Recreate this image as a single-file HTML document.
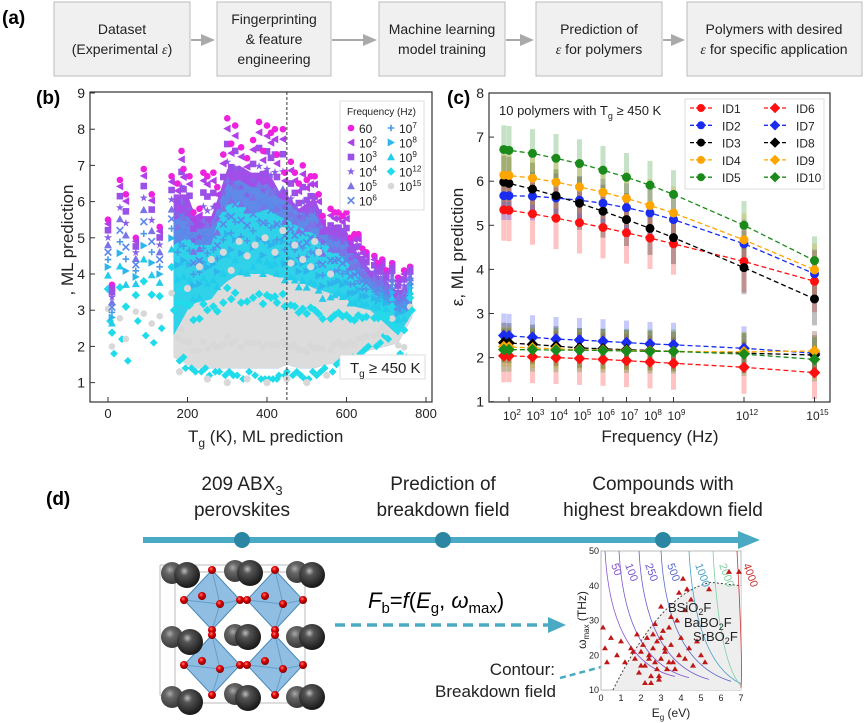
<!DOCTYPE html>
<html><head><meta charset="utf-8">
<style>
html,body{margin:0;padding:0;background:#fff;}
body{width:865px;height:723px;overflow:hidden;position:relative;font-family:"Liberation Sans",sans-serif;}
svg{position:absolute;left:0;top:0;}
text{font-family:"Liberation Sans",sans-serif;}
</style></head>
<body>
<svg id="fig" width="865" height="723" viewBox="0 0 865 723" xmlns="http://www.w3.org/2000/svg">
<defs>
 <radialGradient id="ball" cx="0.4" cy="0.35" r="0.7">
  <stop offset="0" stop-color="#bdbdbd"/><stop offset="0.25" stop-color="#555"/><stop offset="1" stop-color="#111"/>
 </radialGradient>
 <radialGradient id="ball2" cx="0.4" cy="0.35" r="0.7">
  <stop offset="0" stop-color="#aaa"/><stop offset="0.3" stop-color="#666"/><stop offset="1" stop-color="#333"/>
 </radialGradient>
 <radialGradient id="red" cx="0.4" cy="0.35" r="0.7">
  <stop offset="0" stop-color="#ff8080"/><stop offset="0.4" stop-color="#d00"/><stop offset="1" stop-color="#700"/>
 </radialGradient>
 <marker id="ghead" markerWidth="8" markerHeight="8" refX="6" refY="4" orient="auto"><path d="M0,1 L7,4 L0,7 Z" fill="#aaa"/></marker>
</defs>

<!-- PANEL A -->
<g>
 <text x="2" y="24" font-size="19" font-weight="bold">(a)</text>
 <g font-size="14" fill="#222" text-anchor="middle">
  <rect x="54" y="2" width="136" height="74" fill="#f0f0f0" stroke="#bbb"/>
  <text x="122" y="34">Dataset</text><text x="122" y="54">(Experimental <tspan font-family="Liberation Serif" font-style="italic">ε</tspan>)</text>
  <rect x="217" y="2" width="114" height="74" fill="#f0f0f0" stroke="#bbb"/>
  <text x="274" y="24">Fingerprinting</text><text x="274" y="44">&amp; feature</text><text x="274" y="64">engineering</text>
  <rect x="379" y="2" width="126" height="74" fill="#f0f0f0" stroke="#bbb"/>
  <text x="442" y="34">Machine learning</text><text x="442" y="54">model training</text>
  <rect x="536" y="2" width="126" height="74" fill="#f0f0f0" stroke="#bbb"/>
  <text x="599" y="34">Prediction of</text><text x="599" y="54"><tspan font-family="Liberation Serif" font-style="italic">ε</tspan> for polymers</text>
  <rect x="687" y="2" width="175" height="74" fill="#f0f0f0" stroke="#bbb"/>
  <text x="774" y="34">Polymers with desired</text><text x="774" y="54"><tspan font-family="Liberation Serif" font-style="italic">ε</tspan> for specific application</text>
 </g>
 <g stroke="#aaa" stroke-width="2" marker-end="url(#ghead)">
  <line x1="191" y1="40" x2="213" y2="40"/><line x1="332" y1="40" x2="375" y2="40"/>
  <line x1="506" y1="40" x2="532" y2="40"/><line x1="663" y1="40" x2="683" y2="40"/>
 </g>
</g>

<g id="pb">
 <text x="36" y="104" font-size="19" font-weight="bold">(b)</text>
</g>

<g id="pc">
 <text x="447" y="104" font-size="19" font-weight="bold">(c)</text>
</g>

<g>
 <text x="46" y="505" font-size="19" font-weight="bold">(d)</text>
 <g font-size="19" fill="#222" text-anchor="middle">
  <text x="242" y="490">209 ABX<tspan font-size="13" dy="5">3</tspan></text>
  <text x="242" y="516">perovskites</text>
  <text x="443" y="490">Prediction of</text>
  <text x="443" y="516">breakdown field</text>
  <text x="663" y="490">Compounds with</text>
  <text x="663" y="516">highest breakdown field</text>
 </g>
 <line x1="143" y1="540" x2="745" y2="540" stroke="#4aaac4" stroke-width="6"/>
 <path d="M738,531 L760,540 L738,549 Z" fill="#4aaac4"/>
 <circle cx="242" cy="540" r="8" fill="#2a86a2"/>
 <circle cx="443" cy="540" r="8" fill="#2a86a2"/>
 <circle cx="663" cy="540" r="8" fill="#2a86a2"/>
 <g id="crystal"></g>
 <text x="368" y="608" font-size="22" font-family="Liberation Serif" font-style="italic">F<tspan font-style="normal" font-size="15" dy="5">b</tspan><tspan dy="-5" font-style="normal">=</tspan>f<tspan font-style="normal">(</tspan>E<tspan font-style="normal" font-size="15" dy="5">g</tspan><tspan dy="-5" font-style="normal">, </tspan>ω<tspan font-style="normal" font-size="15" dy="5">max</tspan><tspan dy="-5" font-style="normal">)</tspan></text>
 <line x1="335" y1="625" x2="552" y2="625" stroke="#4aaac4" stroke-width="3.5" stroke-dasharray="10,6"/>
 <path d="M548,617 L566,625 L548,633 Z" fill="#4aaac4"/>
 <g font-size="17" fill="#222" text-anchor="end">
  <text x="555" y="675">Contour:</text>
  <text x="556" y="697">Breakdown field</text>
 </g>
 <line x1="560" y1="678" x2="605" y2="666" stroke="#4aaac4" stroke-width="2.5" stroke-dasharray="6,4"/>
 <path d="M602,660 L614,664 L604,671 Z" fill="#4aaac4"/>
 <g id="inset"></g>
</g>
</svg>

<script>
const NS='http://www.w3.org/2000/svg';
function mk(parent,tag,attrs){const e=document.createElementNS(NS,tag);for(const k in attrs)e.setAttribute(k,attrs[k]);parent.appendChild(e);return e;}

/* ================= PANEL B DATA ================= */
const bEnvTg      =[165,200,220,260,280,300,330,360,380,400,430,450,480,520,550,600,620,660,700,730,765];
const bEnvPurple  =[6.2,6.2,5.6,5.6,6.2,6.9,7.0,6.8,6.8,6.9,6.3,6.2,5.8,6.1,5.3,5.2,4.7,4.1,3.8,3.5,3.8];
const bEnvBlue    =[5.5,5.6,5.3,5.3,6.0,6.5,6.6,6.4,6.4,6.5,6.1,6.0,5.7,5.7,5.1,4.9,4.5,3.9,3.5,3.2,3.4];
const bEnvCyan    =[4.8,5.0,4.8,4.8,5.6,5.9,6.0,5.7,5.7,5.8,5.6,5.5,5.3,5.1,4.8,4.4,4.1,3.6,3.2,2.9,3.0];
const bEnvGray    =[2.3,3.0,3.2,3.3,3.6,3.8,4.0,4.0,4.0,4.0,3.9,3.9,3.8,3.6,3.5,3.3,3.1,3.0,2.6,2.3,2.9];
const bEnvBottom  =[1.7,1.5,1.4,1.4,1.4,1.4,1.4,1.4,1.4,1.4,1.4,1.5,1.4,1.4,1.5,1.6,1.7,1.9,2.0,2.1,2.8];
const bPolyTg  =[0,10,30,45,70,90,110,130,160,185,205,240,265,300,320,380,400,420,440,460,490,520,560,600,620,650,690,715,730,745,760,
                 175,190,215,230,250,275,290,310,335,350,365,390,410,425,445,470,480,500,510,530,540,570,580,590,610,630,640,670,680,700];
const bPolyTop =[5.5,3.7,6.6,6.2,5.0,6.9,6.2,5.3,6.7,7.4,6.7,6.8,6.8,8.3,8.1,8.2,8.1,8.0,8.0,7.1,7.0,6.7,5.8,5.7,5.1,4.6,4.4,4.3,3.9,4.1,4.2,
                 6.5,6.9,5.7,5.8,6.7,6.4,7.3,7.6,7.5,7.2,7.7,7.4,7.9,7.3,6.8,6.8,6.5,6.6,6.7,6.2,5.6,5.7,5.7,5.6,5.0,5.1,4.7,4.5,4.3,4.1];
const bPolyLow =[2.6,1.7,2.1,1.5,2.6,2.2,2.0,2.4,2.9,1.6,1.3,1.3,1.2,1.2,1.1,1.0,1.0,1.0,1.1,1.1,1.0,1.1,1.2,1.4,1.5,1.9,2.2,2.5,1.7,1.6,2.9,
                 1.5,1.3,1.2,1.2,1.1,1.2,1.1,1.1,1.0,1.2,1.1,1.0,1.0,1.1,1.2,1.2,1.1,1.0,1.2,1.2,1.3,1.4,1.5,1.4,1.6,1.7,1.8,1.9,2.0,2.1];
const bGrayTg =[200,230,260,290,310,330,350,370,395,420,440,470,490,510,530,560,180,250,300,350,400,450,500,550,600,650,520,460];
const bGrayEps=[3.6,4.2,4.4,4.6,4.1,4.9,4.5,4.8,5.0,4.6,5.2,4.8,4.4,4.2,4.6,4.0,1.3,1.1,1.0,1.1,1.0,1.1,1.0,1.2,1.2,1.6,4.9,4.3];
const bFreqLabels=['60','10^2','10^3','10^4','10^5','10^6','10^7','10^8','10^9','10^12','10^15'];
const bFreqFrac=[0,0.04,0.1,0.17,0.24,0.31,0.38,0.45,0.53,0.66,0.85];
const bXTicks=[0,200,400,600,800];
const bYTicks=[1,2,3,4,5,6,7,8,9];
const bColors=['#ee22dd','#b040ea','#9b50e8','#8a60e8','#7a74e6','#5c86ea','#4a9ae8','#2eb6ec','#22ccea','#20dcea','#d8d8d8'];
const bShapes=['circle','ltri','square','star','utri','x','plus','rtri','utri','diamond','circle'];

const bx=v=>108+v*0.3975, by=v=>93+(9-v)*36.2;

function marker(g,shape,cx,cy,s,col){
  let e;
  if(shape==='circle') e=mk(g,'circle',{cx,cy,r:s,fill:col});
  else if(shape==='square') e=mk(g,'rect',{x:cx-s,y:cy-s,width:2*s,height:2*s,fill:col});
  else if(shape==='diamond') e=mk(g,'path',{d:`M${cx},${cy-s*1.3}L${cx+s*1.3},${cy}L${cx},${cy+s*1.3}L${cx-s*1.3},${cy}Z`,fill:col});
  else if(shape==='utri') e=mk(g,'path',{d:`M${cx},${cy-s*1.2}L${cx+s*1.2},${cy+s}L${cx-s*1.2},${cy+s}Z`,fill:col});
  else if(shape==='ltri') e=mk(g,'path',{d:`M${cx-s*1.2},${cy}L${cx+s},${cy-s*1.2}L${cx+s},${cy+s*1.2}Z`,fill:col});
  else if(shape==='rtri') e=mk(g,'path',{d:`M${cx+s*1.2},${cy}L${cx-s},${cy-s*1.2}L${cx-s},${cy+s*1.2}Z`,fill:col});
  else if(shape==='x') e=mk(g,'path',{d:`M${cx-s},${cy-s}L${cx+s},${cy+s}M${cx-s},${cy+s}L${cx+s},${cy-s}`,stroke:col,'stroke-width':1.6});
  else if(shape==='plus') e=mk(g,'path',{d:`M${cx-s},${cy}L${cx+s},${cy}M${cx},${cy-s}L${cx},${cy+s}`,stroke:col,'stroke-width':1.6});
  else if(shape==='star'){let d='';for(let i=0;i<10;i++){const r=i%2?s*0.5:s*1.3,a=-Math.PI/2+i*Math.PI/5;d+=(i?'L':'M')+(cx+r*Math.cos(a)).toFixed(1)+','+(cy+r*Math.sin(a)).toFixed(1);}e=mk(g,'path',{d:d+'Z',fill:col});}
  return e;
}
function supText(g,x,y,lbl,size,anchor){
  const t=mk(g,'text',{x,y,'font-size':size,'text-anchor':anchor||'start',fill:'#222'});
  if(lbl.indexOf('^')>=0){const p=lbl.split('^');t.appendChild(document.createTextNode(p[0]));const s=mk(t,'tspan',{'font-size':size*0.68,dy:-size*0.4});s.textContent=p[1];}
  else t.textContent=lbl;
  return t;
}

(function(){
 const g=document.getElementById('pb');
 function band(top,bot,col,name){
   let d='M'+bx(bEnvTg[0])+','+by(top[0]);
   for(let i=1;i<bEnvTg.length;i++)d+='L'+bx(bEnvTg[i]).toFixed(1)+','+by(top[i]).toFixed(1);
   for(let i=bEnvTg.length-1;i>=0;i--)d+='L'+bx(bEnvTg[i]).toFixed(1)+','+by(bot[i]).toFixed(1);
   const p=mk(g,'path',{d:d+'Z',fill:col});
   
   
 }
 band(bEnvPurple,bEnvBottom,'#a24ee8','purple-point-cloud');
 band(bEnvBlue,bEnvBottom,'#5f8ae8','blue-point-cloud');
 band(bEnvCyan,bEnvBottom,'#30d2ea','cyan-point-cloud');
 band(bEnvGray,bEnvBottom,'#dcdcdc','gray-point-cloud');
 for(let p=0;p<bPolyTg.length;p++){
   for(let f=0;f<bFreqLabels.length;f++){
     const v=bPolyTop[p]-(bPolyTop[p]-bPolyLow[p])*bFreqFrac[f];
     const m=marker(g,bShapes[f],bx(bPolyTg[p]),by(v),3.3,bColors[f]);
     
     
   }
   const lowCyan=marker(g,'diamond',bx(bPolyTg[p])+2,by(bPolyLow[p]+0.1),3,'#20dcea');
   
   
 }
 for(let i=0;i<bGrayTg.length;i++){
   const m=marker(g,'circle',bx(bGrayTg[i]),by(bGrayEps[i]),3.6,'#d8d8d8');
   
   
 }
 const fr=mk(g,'rect',{x:90,y:92,width:342,height:310,fill:'none',stroke:'#333','stroke-width':1.2});
 
 
 const dl=mk(g,'line',{x1:bx(450),y1:92,x2:bx(450),y2:402,stroke:'#333','stroke-dasharray':'3,2'});
 
 
 bXTicks.forEach(t=>{mk(g,'line',{x1:bx(t),y1:402,x2:bx(t),y2:397,stroke:'#333'});
   const tx=mk(g,'text',{x:bx(t),y:418,'font-size':13,'text-anchor':'middle',fill:'#222'});tx.textContent=t;
   
   });
 bYTicks.forEach(t=>{mk(g,'line',{x1:90,y1:by(t),x2:95,y2:by(t),stroke:'#333'});
   const tx=mk(g,'text',{x:85,y:by(t)+5,'font-size':14,'text-anchor':'end',fill:'#222'});tx.textContent=t;
   
   });
 const xl=mk(g,'text',{x:188,y:442,'font-size':17,fill:'#222'});
 xl.innerHTML='T<tspan font-size="12" dy="5">g</tspan><tspan dy="-5"> (K), ML prediction</tspan>';
 
 
 const yl=mk(g,'text',{x:0,y:0,'font-size':17,fill:'#222','text-anchor':'middle',transform:'translate(73,240) rotate(-90)'});
 yl.textContent=', ML prediction';
 
 
 const lg=mk(g,'g',{});
 
 
 mk(lg,'rect',{x:340,y:101,width:84,height:109,fill:'#fff',stroke:'#ddd'});
 const lt=mk(lg,'text',{x:347,y:115,'font-size':10,fill:'#222'});lt.textContent='Frequency (Hz)';
 for(let f=0;f<bFreqLabels.length;f++){
   const col=f<6?0:1,row=f<6?f:f-6;
   const cx=351+col*40,cy=128+row*14.5;
   const m=marker(lg,bShapes[f],cx,cy,3.3,bColors[f]);
   
   
   supText(lg,cx+8,cy+5,bFreqLabels[f],12);
 }
 const tb=mk(g,'rect',{x:340,y:355,width:85,height:24,fill:'#fff',stroke:'#ddd'});
 
 
 const tt=mk(g,'text',{x:350,y:373,'font-size':15,fill:'#222'});
 tt.innerHTML='T<tspan font-size="10" dy="4">g</tspan><tspan dy="-4"> ≥ 450 K</tspan>';
})();

/* ================= PANEL C DATA ================= */
const cFreqLog=[1.778,2,3,4,5,6,7,8,9,12,15];
const cXTickLog=[2,3,4,5,6,7,8,9,12,15];
const cYTicks=[1,2,3,4,5,6,7,8];
const cNames=['ID1','ID2','ID3','ID4','ID5','ID6','ID7','ID8','ID9','ID10'];
const cColors=['#ff1010','#1a2cf0','#000000','#ffa500','#1a8a1a','#ff1010','#1a2cf0','#000000','#ffa500','#1a8a1a'];
const id1=[5.35,5.34,5.26,5.16,5.06,4.95,4.83,4.71,4.58,4.18,3.73];
const id2=[5.67,5.67,5.66,5.62,5.57,5.50,5.40,5.28,5.13,4.58,3.90];
const id3=[5.98,5.95,5.82,5.67,5.50,5.32,5.13,4.93,4.72,4.04,3.33];
const id4=[6.14,6.13,6.07,5.98,5.87,5.75,5.61,5.45,5.28,4.67,3.99];
const id5=[6.72,6.70,6.63,6.52,6.40,6.25,6.09,5.91,5.70,5.00,4.20];
const id6=[2.04,2.04,2.02,2.00,1.98,1.96,1.93,1.90,1.87,1.78,1.66];
const id7=[2.50,2.49,2.46,2.42,2.40,2.37,2.34,2.31,2.29,2.21,2.10];
const id8=[2.34,2.33,2.30,2.26,2.22,2.20,2.18,2.16,2.14,2.10,2.06];
const id9=[2.25,2.24,2.22,2.20,2.18,2.17,2.16,2.15,2.14,2.13,2.15];
const id10=[2.18,2.18,2.18,2.17,2.17,2.16,2.15,2.14,2.14,2.08,1.96];
const cErr=[0.7,0.55,0.6,0.6,0.55,0.6,0.5,0.45,0.45,0.5];

const cx_=v=>509+(v-2)*23.5, cy_=v=>93+(8-v)*44.1;
(function(){
 const g=document.getElementById('pc');
 const series=[id1,id2,id3,id4,id5,id6,id7,id8,id9,id10];
 series.forEach((s,k)=>{s.forEach((v,i)=>{
   const e=mk(g,'rect',{x:cx_(cFreqLog[i])-2.5,y:cy_(v+cErr[k]),width:5,height:cy_(v-cErr[k])-cy_(v+cErr[k]),fill:cColors[k],opacity:0.25});
   
   
 });});
 series.forEach((s,k)=>{
   const pts=s.map((v,i)=>cx_(cFreqLog[i]).toFixed(1)+','+cy_(v).toFixed(1)).join(' ');
   const l=mk(g,'polyline',{points:pts,fill:'none',stroke:cColors[k],'stroke-width':1.3,'stroke-dasharray':'5,3'});
   
   
   s.forEach((v,i)=>{
     const m=marker(g,k<5?'circle':'diamond',cx_(cFreqLog[i]),cy_(v),4.5,cColors[k]);
     
     
   });
 });
 const fr=mk(g,'rect',{x:489,y:93,width:341,height:309,fill:'none',stroke:'#333','stroke-width':1.2});
 
 
 cXTickLog.forEach(t=>{mk(g,'line',{x1:cx_(t),y1:402,x2:cx_(t),y2:397,stroke:'#333'});
   const tx=supText(g,cx_(t)+3,420,'10^'+t,12,'middle');
   
   });
 cYTicks.forEach(t=>{mk(g,'line',{x1:489,y1:cy_(t),x2:494,y2:cy_(t),stroke:'#333'});
   const tx=mk(g,'text',{x:484,y:cy_(t)+5,'font-size':14,'text-anchor':'end',fill:'#222'});tx.textContent=t;
   
   });
 const xl=mk(g,'text',{x:660,y:442,'font-size':17,'text-anchor':'middle',fill:'#222'});xl.textContent='Frequency (Hz)';
 
 
 const yl=mk(g,'text',{x:0,y:0,'font-size':17,fill:'#222','text-anchor':'middle',transform:'translate(463,247) rotate(-90)'});
 yl.textContent='ε, ML prediction';
 
 
 const ti=mk(g,'text',{x:499,y:115,'font-size':13,fill:'#222'});
 ti.innerHTML='10 polymers with T<tspan font-size="9" dy="4">g</tspan><tspan dy="-4"> ≥ 450 K</tspan>';
 
 
 const lg=mk(g,'g',{});
 
 
 mk(lg,'rect',{x:685,y:99,width:139,height:90,fill:'#fff',stroke:'#ddd'});
 cNames.forEach((n,k)=>{
   const col=k<5?0:1,row=k%5,x0=690+col*74,y0=108+row*17.3;
   mk(lg,'line',{x1:x0,y1:y0,x2:x0+22,y2:y0,stroke:cColors[k],'stroke-dasharray':'4,2','stroke-width':1.3});
   marker(lg,k<5?'circle':'diamond',x0+11,y0,4,cColors[k]);
   const t=mk(lg,'text',{x:x0+32,y:y0+5,'font-size':12,fill:'#222'});t.textContent=n;
 });
})();

/* ================= PANEL D ================= */
(function(){
 const g=document.getElementById('crystal');
 mk(g,'path',{d:'M175,572 L305,572 L305,703 L175,703 Z M160,565 L290,565 M160,565 L160,695 L175,703',fill:'none',stroke:'#bbb'});
 const backBalls=[[172,573],[235,571],[297,572],[172,637],[235,635],[297,637],[172,697],[235,694],[297,697]];
 backBalls.forEach(b=>mk(g,'circle',{cx:b[0],cy:b[1],r:11,fill:'url(#ball2)'}));
 const octs=[[212,600],[275,600],[212,665],[275,665]];
 octs.forEach(o=>{
   mk(g,'path',{d:`M${o[0]},${o[1]-30}L${o[0]+28},${o[1]}L${o[0]},${o[1]+30}L${o[0]-28},${o[1]}Z`,fill:'#6aa8d8','fill-opacity':0.75,stroke:'#4a88b8'});
   mk(g,'path',{d:`M${o[0]},${o[1]-30}L${o[0]+8},${o[1]+4}L${o[0]},${o[1]+30}M${o[0]-28},${o[1]}L${o[0]+8},${o[1]+4}L${o[0]+28},${o[1]}`,fill:'none',stroke:'#4a88b8','stroke-opacity':0.6});
   [[-28,0],[28,0],[0,-30],[0,30],[8,4],[-10,-4]].forEach(d=>mk(g,'circle',{cx:o[0]+d[0],cy:o[1]+d[1],r:4,fill:'url(#red)'}));
 });
 const balls=[[187,575],[250,573],[312,575],[190,642],[248,637],[312,637],[190,702],[248,698],[312,697]];
 balls.forEach(b=>{const c=mk(g,'circle',{cx:b[0],cy:b[1],r:13,fill:'url(#ball)'});
   
   });
})();

const inEg=[0.1,0.2,0.3,0.5,0.8,1.0,1.2,1.5,1.7,1.8,1.9,2.0,2.1,2.2,2.3,2.4,2.5,2.6,2.7,2.8,2.9,3.0,3.1,3.2,3.4,3.5,3.7,3.9,4.0,4.2,4.4,4.6,4.8,5.0,5.2,1.6,2.0,2.4,2.8,3.2,3.6,2.2,2.6,3.0,3.4,3.8,4.2,2.5,2.9,3.3,3.9,4.1,4.3,4.5,5.4,6.4,6.9,3.0,3.5,2.7];
const inW =[28,22,18,25,20,24,18,22,19,26,15,21,23,17,25,20,14,22,18,24,13,19,27,21,18,23,16,20,25,19,22,17,24,20,18,21,17,19,16,22,18,12,26,25,28,30,33,12,14,16,38,42,39,36,39,44,44,34,31,29];
(function(){
 const g=document.getElementById('inset');
 const ix=v=>601+v*20, iy=v=>551+(50-v)*3.475;
 mk(g,'rect',{x:601,y:551,width:140,height:139,fill:'#fff',stroke:'#bbb'});
 mk(g,'path',{d:`M${ix(0.6)},${iy(10)} Q${ix(3)},${iy(38)} ${ix(5.5)},${iy(41)} L${ix(7)},${iy(40)} L${ix(7)},${iy(10)} Z`,fill:'#eee'});
 mk(g,'path',{d:`M${ix(0.6)},${iy(10)} Q${ix(3)},${iy(38)} ${ix(5.5)},${iy(41)} L${ix(7)},${iy(40)}`,fill:'none',stroke:'#444','stroke-dasharray':'2,2'});
 const cont=[['50',0.2,'#8855cc'],['100',0.9,'#7755cc'],['250',1.9,'#6a5acd'],['500',3.0,'#5a6ac8'],['1000',4.4,'#4aa0c8'],['2000',5.6,'#80d0a0'],['4000',6.8,'#cc3333']];
 cont.forEach(c=>{
   const x0=c[1];
   mk(g,'path',{d:`M${ix(x0)},${iy(50)} Q${ix(x0+0.3)},${iy(18)} ${ix(Math.min(7,x0+3.5))},${iy(Math.max(10,14-x0*0.5))}`,fill:'none',stroke:c[2],'stroke-width':0.8});
   const t=mk(g,'text',{x:ix(x0+0.3),y:iy(46),'font-size':11,fill:c[2],transform:`rotate(70 ${ix(x0+0.3)} ${iy(46)})`});t.textContent=c[0];
 });
 inEg.forEach((e,i)=>{const x=ix(e),y=iy(inW[i]);
   const p=mk(g,'path',{d:`M${x},${y-3}L${x+3},${y+2}L${x-3},${y+2}Z`,fill:'#c01818'});
   
   });
 [0,1,2,3,4,5,6,7].forEach(t=>{const tx=mk(g,'text',{x:ix(t),y:701,'font-size':9,'text-anchor':'middle',fill:'#222'});tx.textContent=t;});
 [10,20,30,40,50].forEach(t=>{const tx=mk(g,'text',{x:599,y:iy(t)+3,'font-size':9,'text-anchor':'end',fill:'#222'});tx.textContent=t;});
 const xl=mk(g,'text',{x:671,y:717,'font-size':12,'text-anchor':'middle',fill:'#222'});xl.innerHTML='E<tspan font-size="8" dy="3">g</tspan><tspan dy="-3"> (eV)</tspan>';
 const yl=mk(g,'text',{x:0,y:0,'font-size':12,'text-anchor':'middle',fill:'#222',transform:'translate(586,620) rotate(-90)'});yl.innerHTML='ω<tspan font-size="8" dy="3">max</tspan><tspan dy="-3"> (THz)</tspan>';
 [['BSiO',2,'F',668,612],['BaBO',2,'F',684,627],['SrBO',2,'F',693,641]].forEach(a=>{
   const t=mk(g,'text',{x:a[3],y:a[4],'font-size':13,fill:'#222'});
   t.innerHTML=a[0]+'<tspan font-size="9" dy="3">'+a[1]+'</tspan><tspan dy="-3">'+a[2]+'</tspan>';
   
   
 });
})();
</script>
</body></html>
